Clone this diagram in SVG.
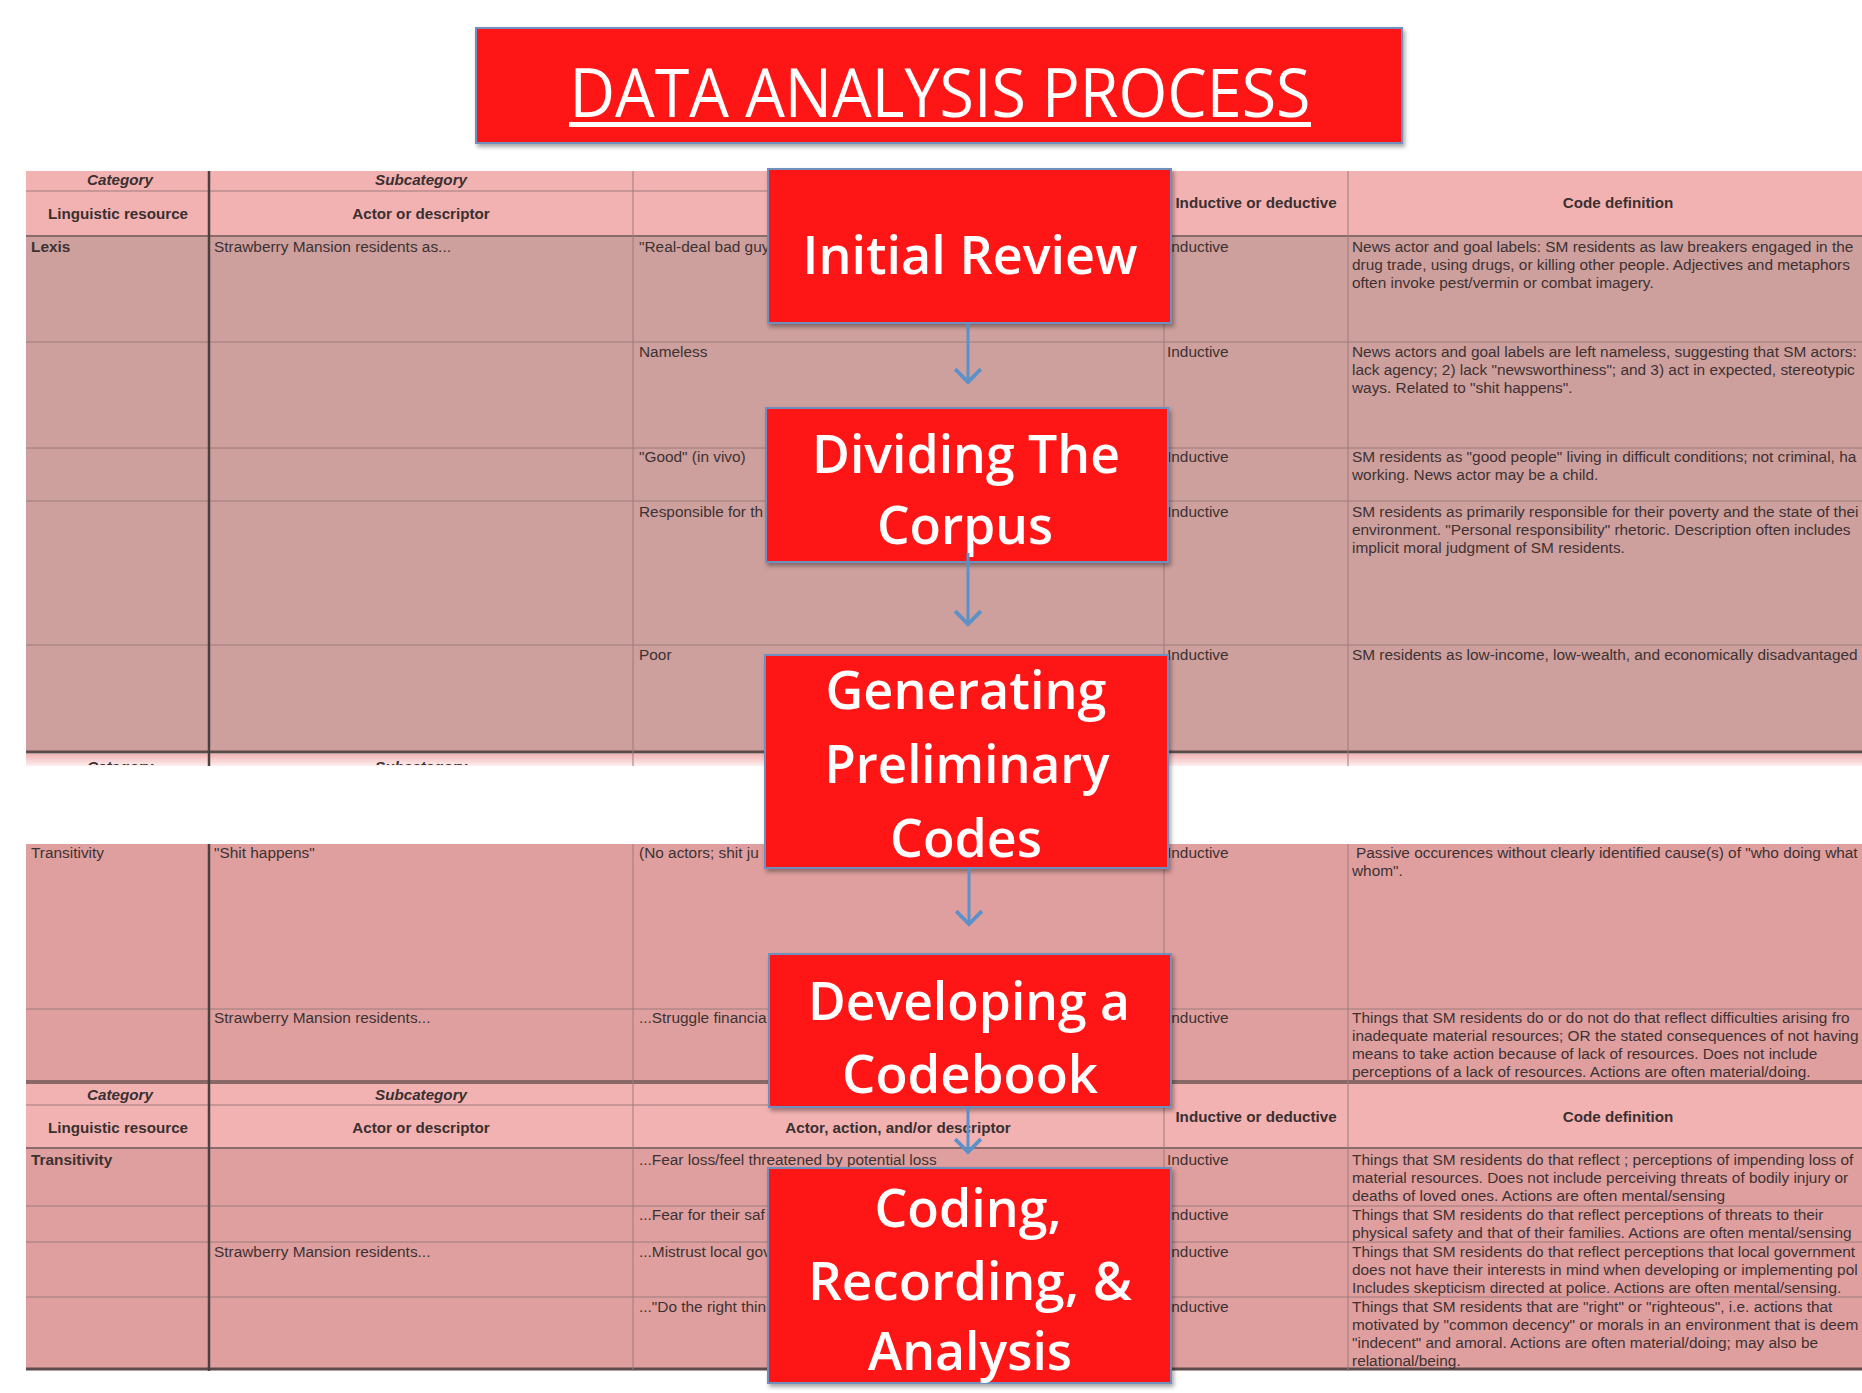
<svg xmlns="http://www.w3.org/2000/svg" width="1862" height="1393" viewBox="0 0 1862 1393">
<defs>
<style>
.hdr{fill:#f3b2b2}
.bodyU{fill:#cd9f9d}
.bodyL{fill:#df9f9f}
.thin{stroke:#9c7b7b;stroke-width:1}
.mid{stroke:#8a6a6a;stroke-width:2}
.thick{stroke:#5e4a4a;stroke-width:3}
.vthick{stroke:#4a4040;stroke-width:2.5}
.t{font-family:"Liberation Sans",Arial,sans-serif;font-size:15.4px;fill:#3d3232}
.hb{font-family:"Liberation Sans",Arial,sans-serif;font-size:15.2px;font-weight:bold;fill:#3a3030}
.hi{font-style:italic}
.bx{fill:#fe1616;stroke:#6f8fbf;stroke-width:2}
.bt{font-family:"Open Sans","Noto Sans",sans-serif;font-size:53px;font-weight:600;fill:#ffffff;text-anchor:middle}
.conn{stroke:#5b91c8;stroke-width:3;fill:none}
</style>
<filter id="sh" x="-5%" y="-5%" width="115%" height="125%">
<feDropShadow dx="2" dy="3" stdDeviation="2" flood-color="#000" flood-opacity="0.35"/>
</filter>
<linearGradient id="fade" x1="0" y1="0" x2="0" y2="1">
<stop offset="0" stop-color="#f3b2b2" stop-opacity="1"/>
<stop offset="1" stop-color="#f3b2b2" stop-opacity="0.2"/>
</linearGradient>
<clipPath id="cut"><rect x="0" y="754" width="1862" height="11"/></clipPath>
<marker id="ah" markerUnits="userSpaceOnUse" markerWidth="30" markerHeight="30" viewBox="-2 -14 16 28" refX="12" refY="0" orient="auto">
<path d="M0,-12 L12,0 L0,12" fill="none" stroke="#5b91c8" stroke-width="3.5"/>
</marker>
</defs>
<rect x="0" y="0" width="1862" height="1393" fill="#ffffff"/>

<g id="table">
<rect class="hdr" x="26" y="171" width="1836" height="65"/>
<rect class="bodyU" x="26" y="236" width="1836" height="516"/>
<rect x="26" y="754" width="1836" height="12" fill="url(#fade)"/>
<line class="thin" x1="26" y1="191" x2="1164" y2="191"/>
<line class="mid" x1="26" y1="236" x2="1862" y2="236"/>
<line class="thin" x1="26" y1="342" x2="1862" y2="342"/>
<line class="thin" x1="26" y1="448" x2="1862" y2="448"/>
<line class="thin" x1="26" y1="501" x2="1862" y2="501"/>
<line class="thin" x1="26" y1="645" x2="1862" y2="645"/>
<line class="thick" x1="26" y1="752" x2="1862" y2="752"/>
<line class="vthick" x1="209" y1="171" x2="209" y2="766"/>
<line class="thin" x1="633" y1="171" x2="633" y2="766"/>
<line class="thin" x1="1164" y1="171" x2="1164" y2="766"/>
<line class="thin" x1="1348" y1="171" x2="1348" y2="766"/>

<text class="hb hi" x="120" y="185" text-anchor="middle">Category</text>
<text class="hb hi" x="421" y="185" text-anchor="middle">Subcategory</text>
<text class="hb" x="118" y="219" text-anchor="middle">Linguistic resource</text>
<text class="hb" x="421" y="219" text-anchor="middle">Actor or descriptor</text>
<text class="hb" x="1256" y="208" text-anchor="middle">Inductive or deductive</text>
<text class="hb" x="1618" y="208" text-anchor="middle">Code definition</text>

<text class="t" x="31" y="252" font-weight="bold">Lexis</text>
<text class="t" x="214" y="252">Strawberry Mansion residents as...</text>
<text class="t" x="639" y="252">"Real-deal bad guy</text>
<text class="t" x="1167" y="252">Inductive</text>
<text class="t" x="1352" y="252">News actor and goal labels: SM residents as law breakers engaged in the</text>
<text class="t" x="1352" y="270">drug trade, using drugs, or killing other people. Adjectives and metaphors</text>
<text class="t" x="1352" y="288">often invoke pest/vermin or combat imagery.</text>

<text class="t" x="639" y="357">Nameless</text>
<text class="t" x="1167" y="357">Inductive</text>
<text class="t" x="1352" y="357">News actors and goal labels are left nameless, suggesting that SM actors:</text>
<text class="t" x="1352" y="375">lack agency; 2) lack "newsworthiness"; and 3) act in expected, stereotypic</text>
<text class="t" x="1352" y="393">ways.  Related to "shit happens".</text>

<text class="t" x="639" y="462">"Good" (in vivo)</text>
<text class="t" x="1167" y="462">Inductive</text>
<text class="t" x="1352" y="462">SM residents as "good people" living in difficult conditions; not criminal, ha</text>
<text class="t" x="1352" y="480">working. News actor may be a child.</text>

<text class="t" x="639" y="517">Responsible for th</text>
<text class="t" x="1167" y="517">Inductive</text>
<text class="t" x="1352" y="517">SM residents as primarily responsible for their poverty and the state of thei</text>
<text class="t" x="1352" y="535">environment. "Personal responsibility" rhetoric. Description often includes</text>
<text class="t" x="1352" y="553">implicit moral judgment of SM residents.</text>

<text class="t" x="639" y="660">Poor</text>
<text class="t" x="1167" y="660">Inductive</text>
<text class="t" x="1352" y="660">SM residents as low-income, low-wealth, and economically disadvantaged</text>

<g clip-path="url(#cut)">
<text class="hb hi" x="120" y="772" text-anchor="middle">Category</text>
<text class="hb hi" x="421" y="772" text-anchor="middle">Subcategory</text>
</g>

<rect class="bodyL" x="26" y="844" width="1836" height="238"/>
<rect class="hdr" x="26" y="1084" width="1836" height="64"/>
<rect class="bodyL" x="26" y="1148" width="1836" height="221"/>
<line class="thin" x1="26" y1="1009" x2="1862" y2="1009"/>
<line stroke="#8a6868" stroke-width="4" x1="26" y1="1082" x2="1862" y2="1082"/>
<line class="thin" x1="26" y1="1105" x2="1164" y2="1105"/>
<line class="mid" x1="26" y1="1148" x2="1862" y2="1148"/>
<line class="thin" x1="26" y1="1206" x2="1862" y2="1206"/>
<line class="thin" x1="26" y1="1242" x2="1862" y2="1242"/>
<line class="thin" x1="26" y1="1297" x2="1862" y2="1297"/>
<line class="thick" x1="26" y1="1369" x2="1862" y2="1369"/>
<line class="vthick" x1="209" y1="844" x2="209" y2="1371"/>
<line class="thin" x1="633" y1="844" x2="633" y2="1371"/>
<line class="thin" x1="1164" y1="844" x2="1164" y2="1371"/>
<line class="thin" x1="1348" y1="844" x2="1348" y2="1371"/>

<text class="t" x="31" y="858">Transitivity</text>
<text class="t" x="214" y="858">"Shit happens"</text>
<text class="t" x="639" y="858">(No actors; shit ju</text>
<text class="t" x="1167" y="858">Inductive</text>
<text class="t" x="1356" y="858">Passive occurences without clearly identified cause(s) of "who doing what</text>
<text class="t" x="1352" y="876">whom".</text>

<text class="t" x="214" y="1023">Strawberry Mansion residents...</text>
<text class="t" x="639" y="1023">...Struggle financia</text>
<text class="t" x="1167" y="1023">Inductive</text>
<text class="t" x="1352" y="1023">Things that SM residents do or do not do that reflect difficulties arising fro</text>
<text class="t" x="1352" y="1041">inadequate material resources; OR the stated consequences of not having</text>
<text class="t" x="1352" y="1059">means to take action because of lack of resources. Does not include</text>
<text class="t" x="1352" y="1077">perceptions of a lack of resources. Actions are often material/doing.</text>

<text class="hb hi" x="120" y="1100" text-anchor="middle">Category</text>
<text class="hb hi" x="421" y="1100" text-anchor="middle">Subcategory</text>
<text class="hb" x="118" y="1133" text-anchor="middle">Linguistic resource</text>
<text class="hb" x="421" y="1133" text-anchor="middle">Actor or descriptor</text>
<text class="hb" x="898" y="1133" text-anchor="middle">Actor, action, and/or descriptor</text>
<text class="hb" x="1256" y="1122" text-anchor="middle">Inductive or deductive</text>
<text class="hb" x="1618" y="1122" text-anchor="middle">Code definition</text>

<text class="t" x="31" y="1165" font-weight="bold">Transitivity</text>
<text class="t" x="639" y="1165">...Fear loss/feel threatened by potential loss</text>
<text class="t" x="1167" y="1165">Inductive</text>
<text class="t" x="1352" y="1165">Things that SM residents do that reflect ; perceptions of impending loss of</text>
<text class="t" x="1352" y="1183">material resources. Does not include perceiving threats of bodily injury or</text>
<text class="t" x="1352" y="1201">deaths of loved ones. Actions are often mental/sensing</text>

<text class="t" x="639" y="1220">...Fear for their saf</text>
<text class="t" x="1167" y="1220">Inductive</text>
<text class="t" x="1352" y="1220">Things that SM residents do that reflect  perceptions of threats to their</text>
<text class="t" x="1352" y="1238">physical safety and that of their families.  Actions are often mental/sensing</text>

<text class="t" x="214" y="1257">Strawberry Mansion residents...</text>
<text class="t" x="639" y="1257">...Mistrust local gov</text>
<text class="t" x="1167" y="1257">Inductive</text>
<text class="t" x="1352" y="1257">Things that SM residents do that reflect perceptions that local government</text>
<text class="t" x="1352" y="1275">does not have their interests in mind when developing or implementing pol</text>
<text class="t" x="1352" y="1293">Includes skepticism directed at police.  Actions are often mental/sensing.</text>

<text class="t" x="639" y="1312">..."Do the right thin</text>
<text class="t" x="1167" y="1312">Inductive</text>
<text class="t" x="1352" y="1312">Things that SM residents that are "right" or "righteous", i.e. actions that</text>
<text class="t" x="1352" y="1330">motivated by "common decency" or morals in an environment that is deem</text>
<text class="t" x="1352" y="1348">"indecent" and amoral. Actions are often material/doing; may also be</text>
<text class="t" x="1352" y="1366">relational/being.</text>
</g>

<g id="title" filter="url(#sh)">
<rect class="bx" x="476" y="28" width="926" height="115"/>
<text x="940" y="117" font-family="'Open Sans','Noto Sans',sans-serif" font-size="68" font-weight="500" fill="#ffffff" text-anchor="middle" textLength="741" lengthAdjust="spacingAndGlyphs">DATA ANALYSIS PROCESS</text>
<rect x="569" y="122" width="742" height="5" fill="#ffffff"/>
</g>

<g id="n1" filter="url(#sh)">
<rect class="bx" x="768" y="169" width="403" height="154"/>
<text class="bt" x="970" y="274" textLength="335" lengthAdjust="spacingAndGlyphs">Initial Review</text>
</g>

<g id="n2" filter="url(#sh)">
<rect class="bx" x="766" y="408" width="402" height="154"/>
<text class="bt" x="966" y="473" textLength="308" lengthAdjust="spacingAndGlyphs">Dividing The</text>
<text class="bt" x="965" y="544" textLength="176" lengthAdjust="spacingAndGlyphs">Corpus</text>
</g>

<g id="n3" filter="url(#sh)">
<rect class="bx" x="765" y="655" width="403" height="213"/>
<text class="bt" x="966" y="709" textLength="281" lengthAdjust="spacingAndGlyphs">Generating</text>
<text class="bt" x="967" y="783" textLength="285" lengthAdjust="spacingAndGlyphs">Preliminary</text>
<text class="bt" x="966" y="857" textLength="152" lengthAdjust="spacingAndGlyphs">Codes</text>
</g>

<g id="n4" filter="url(#sh)">
<rect class="bx" x="769" y="954" width="402" height="153"/>
<text class="bt" x="969" y="1020" textLength="322" lengthAdjust="spacingAndGlyphs">Developing a</text>
<text class="bt" x="970" y="1093" textLength="256" lengthAdjust="spacingAndGlyphs">Codebook</text>
</g>

<g id="n5" filter="url(#sh)">
<rect class="bx" x="768" y="1168" width="403" height="215"/>
<text class="bt" x="968" y="1227" textLength="187" lengthAdjust="spacingAndGlyphs">Coding,</text>
<text class="bt" x="970" y="1300" textLength="324" lengthAdjust="spacingAndGlyphs">Recording, &amp;</text>
<text class="bt" x="970" y="1370" textLength="204" lengthAdjust="spacingAndGlyphs">Analysis</text>
</g>

<g id="connectors">
<line class="conn" x1="968" y1="323" x2="968" y2="382" marker-end="url(#ah)"/>
<line class="conn" x1="968" y1="553" x2="968" y2="624" marker-end="url(#ah)"/>
<line class="conn" x1="969" y1="868" x2="969" y2="924" marker-end="url(#ah)"/>
<line class="conn" x1="968" y1="1107" x2="968" y2="1152" marker-end="url(#ah)"/>
</g>
</svg>
